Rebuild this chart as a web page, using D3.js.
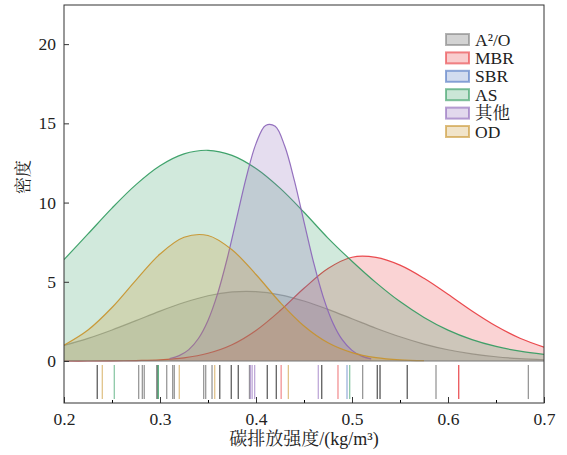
<!DOCTYPE html>
<html>
<head>
<meta charset="utf-8">
<script src="https://cdn.jsdelivr.net/npm/d3@7"></script>
<style>
  body { margin: 0; background: #fff; }
  text { font-family: "Liberation Serif", "Times New Roman", "DejaVu Serif", "Noto Serif CJK SC", "Noto Sans CJK SC", serif; }
</style>
</head>
<body>
<div id="chart"></div>
<script>
const width = 567, height = 455;
const margin = { top: 5, right: 23, bottom: 52, left: 64 };

// series names / colours (legend order)
const names = ['A²/O', 'MBR', 'SBR', 'AS', '其他', 'OD'];
const colors = ['#808080', '#e8383d', '#4a72c0', '#2f9a5e', '#8a63b8', '#c8922a'];

// density curves
const gridX = [0.200, 0.225, 0.250, 0.275, 0.300, 0.325, 0.350, 0.375, 0.400, 0.425, 0.450,
    0.475, 0.500, 0.525, 0.550, 0.575, 0.600, 0.625, 0.650, 0.675, 0.700];
const a2oY = [0.99, 1.43, 1.96, 2.55, 3.15, 3.69, 4.12, 4.36, 4.38, 4.18, 3.79,
    3.26, 2.67, 2.07, 1.53, 1.07, 0.71, 0.45, 0.27, 0.15, 0.08];
const mbrY = [0, 0, 0.01, 0.03, 0.07, 0.2, 0.49, 1.03, 1.93, 3.17, 4.59,
    5.84, 6.55, 6.54, 6.05, 5.22, 4.21, 3.16, 2.21, 1.44, 0.88];
const asY = [6.40, 8.02, 9.65, 11.13, 12.32, 13.07, 13.30, 12.98, 12.15, 10.91, 9.39,
    7.76, 6.30, 4.95, 3.75, 2.75, 1.95, 1.35, 0.92, 0.62, 0.42];
const odX = gridX.slice(0, 16);
const odY = [1.0, 1.96, 3.38, 5.11, 6.75, 7.81, 7.92, 7.02, 5.46, 3.71, 2.21,
    1.15, 0.53, 0.21, 0.07, 0.02];
const otherX = [0.31, 0.32, 0.33, 0.34, 0.35, 0.36, 0.37, 0.38, 0.39, 0.40, 0.41,
    0.42, 0.43, 0.44, 0.45, 0.46, 0.47, 0.48, 0.49, 0.50, 0.51, 0.52];
const otherY = [0.16, 0.34, 0.72, 1.42, 2.56, 4.25, 6.47, 9.05, 11.62, 13.72, 14.87,
    14.81, 13.55, 11.38, 8.78, 6.22, 4.05, 2.42, 1.33, 0.67, 0.31, 0.13];

// rug observations (repeated values = overlapping marks)
const a2oRug = [0.2347, 0.2347, 0.2778, 0.2816, 0.2836, 0.2969, 0.2969, 0.307, 0.3132, 0.3149,
    0.3455, 0.3476, 0.3542, 0.3622, 0.3622, 0.3743, 0.3743, 0.3816, 0.3816, 0.3932,
    0.4118, 0.4118, 0.4212, 0.4212, 0.4684, 0.4684, 0.5111, 0.5264, 0.5264, 0.5292, 0.5292,
    0.5576, 0.5576, 0.5875, 0.6837];
const mbrRug = [0.4262, 0.4854, 0.6111, 0.6111];
const sbrRug = [0.4948];
const asRug = [0.2524, 0.2982, 0.2982, 0.4976];
const otherRug = [0.3942, 0.3960, 0.3986, 0.4649];
const odRug = [0.2399, 0.3201, 0.3570, 0.4337];

const xTicks = [0.2, 0.3, 0.4, 0.5, 0.6, 0.7];
const xMinor = [0.25, 0.35, 0.45, 0.55, 0.65];
const yTicks = [0, 5, 10, 15, 20];

const curves = [
    { i: 0, x: gridX, y: a2oY },
    { i: 1, x: gridX, y: mbrY },
    { i: 3, x: gridX, y: asY },
    { i: 4, x: otherX, y: otherY },
    { i: 5, x: odX, y: odY }
];
const rugs = [a2oRug, mbrRug, sbrRug, asRug, otherRug, odRug];

const serif = '"Liberation Serif", "Times New Roman", "DejaVu Serif", serif';

const svg = d3.select('#chart').append('svg')
    .attr('width', width)
    .attr('height', height);

const x = d3.scaleLinear().domain([0.2, 0.7]).range([margin.left, width - margin.right]);
const y = d3.scaleLinear().domain([-2.65, 22.47]).range([height - margin.bottom, margin.top]);

svg.append('clipPath').attr('id', 'clip')
    .append('rect')
    .attr('x', margin.left).attr('y', margin.top)
    .attr('width', width - margin.left - margin.right)
    .attr('height', height - margin.top - margin.bottom);

const plot = svg.append('g').attr('clip-path', 'url(#clip)');

const area = d3.area()
    .x(d => x(d[0]))
    .y0(y(0))
    .y1(d => y(d[1]))
    .curve(d3.curveCatmullRom);
const line = area.lineY1();

curves.forEach(c => {
    const pts = c.x.map((v, k) => [v, c.y[k]]);
    plot.append('path')
        .attr('d', area(pts))
        .attr('fill', colors[c.i])
        .attr('fill-opacity', c.i == 0 ? 0.2 : 0.22);
    plot.append('path')
        .attr('d', line(pts))
        .attr('fill', 'none')
        .attr('stroke', colors[c.i])
        .attr('stroke-opacity', c.i == 0 ? 0.6 : 0.9)
        .attr('stroke-width', 1.2);
});

// zero line
svg.append('line')
    .attr('x1', margin.left).attr('x2', width - margin.right)
    .attr('y1', y(0)).attr('y2', y(0))
    .attr('stroke', '#777').attr('stroke-width', 1);

// rug
rugs.forEach((r, i) => {
    plot.selectAll(null)
        .data(r)
        .enter()
        .append('line')
        .attr('x1', d => x(d)).attr('x2', d => x(d))
        .attr('y1', y(-0.25)).attr('y2', y(-2.4))
        .attr('stroke', i == 0 ? '#444' : colors[i])
        .attr('stroke-opacity', 0.55)
        .attr('stroke-width', 1.3);
});

// axes (ticks pointing inward)
const xAxis = svg.append('g')
    .attr('transform', `translate(0,${height - margin.bottom})`)
    .call(d3.axisBottom(x).tickValues(xTicks).tickFormat(d3.format('.1f'))
        .tickSizeInner(-6).tickSizeOuter(0).tickPadding(10));
svg.append('g')
    .attr('transform', `translate(0,${height - margin.bottom})`)
    .call(d3.axisBottom(x).tickValues(xMinor).tickFormat('')
        .tickSizeInner(-3).tickSizeOuter(0))
    .call(g => g.select('.domain').remove());
const yAxis = svg.append('g')
    .attr('transform', `translate(${margin.left},0)`)
    .call(d3.axisLeft(y).tickValues(yTicks)
        .tickSizeInner(-5).tickSizeOuter(0).tickPadding(8));

[xAxis, yAxis].forEach(g => {
    g.select('.domain').remove();
    g.attr('font-family', serif);
    g.selectAll('text').attr('font-size', 17.5).attr('fill', '#222')
        .style('font-family', serif);
    g.selectAll('line').attr('stroke', '#333');
});

// frame
svg.append('rect')
    .attr('x', margin.left).attr('y', margin.top)
    .attr('width', width - margin.left - margin.right)
    .attr('height', height - margin.top - margin.bottom)
    .attr('fill', 'none')
    .attr('stroke', '#333')
    .attr('stroke-width', 1);

// axis titles
svg.append('text')
    .text('碳排放强度/(kg/m³)')
    .attr('x', (margin.left + width - margin.right) / 2)
    .attr('y', 445)
    .attr('text-anchor', 'middle')
    .attr('font-size', 18)
    .attr('fill', '#222');

svg.append('text')
    .text('密度')
    .attr('transform', 'translate(29,177) rotate(-90)')
    .attr('text-anchor', 'middle')
    .attr('font-size', 17)
    .attr('fill', '#222');

// legend
const legend = svg.append('g').attr('transform', 'translate(446,39.5)');
names.forEach((n, i) => {
    const row = legend.append('g').attr('transform', `translate(0,${i * 18.4})`);
    row.append('rect')
        .attr('x', 0).attr('y', -5.5)
        .attr('width', 23).attr('height', 11)
        .attr('fill', colors[i]).attr('fill-opacity', i == 0 ? 0.35 : 0.25)
        .attr('stroke', colors[i]).attr('stroke-opacity', 0.6)
        .attr('stroke-width', 2);
    row.append('text')
        .text(n)
        .attr('x', 29).attr('y', 6)
        .attr('font-size', 17.5)
        .attr('fill', '#222');
});
</script>
</body>
</html>
